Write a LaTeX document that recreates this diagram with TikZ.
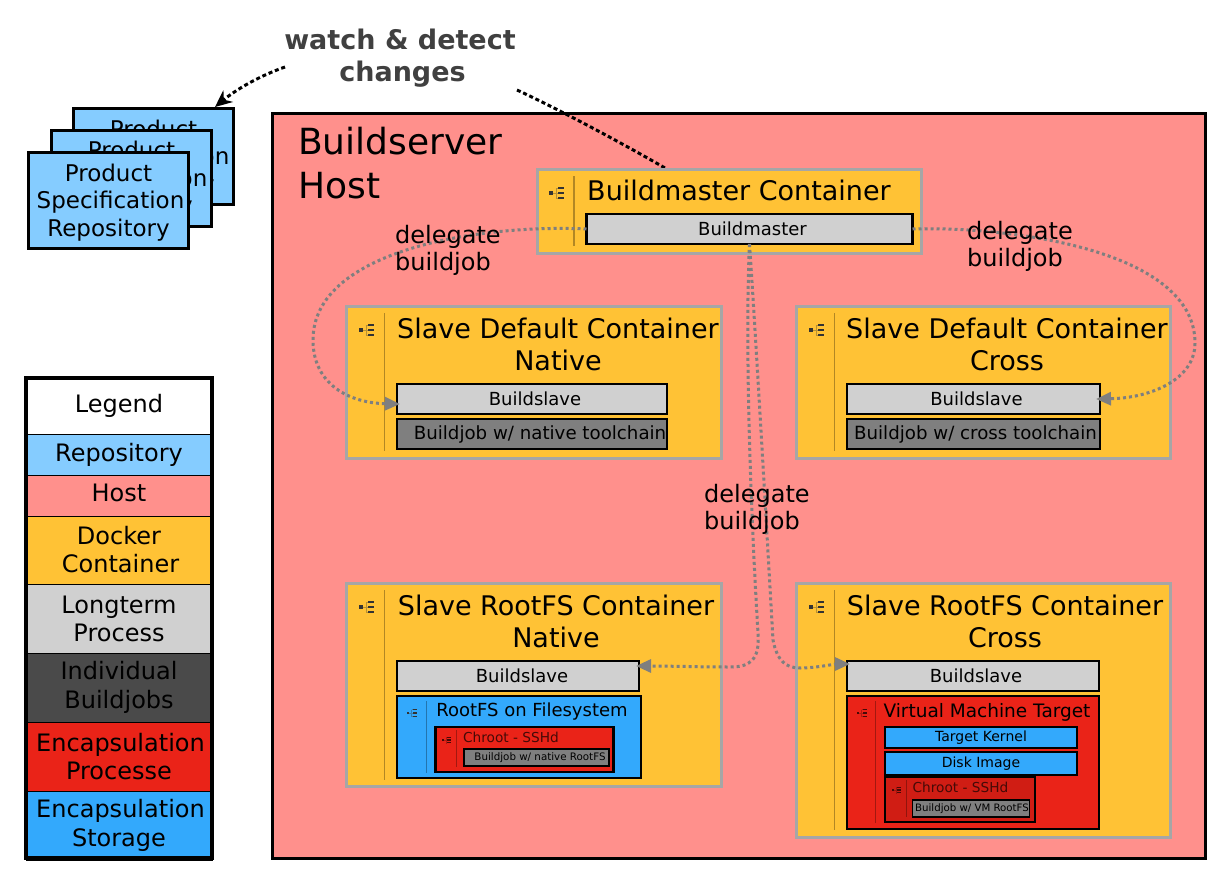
\documentclass[tikz,border=0pt]{standalone}
\usepackage{fontspec}
\setmainfont{DejaVu Sans}
\usetikzlibrary{arrows.meta}
\definecolor{repoblue}{HTML}{85CCFF}
\definecolor{hostred}{HTML}{FF908C}
\definecolor{dockyellow}{HTML}{FFC235}
\definecolor{procgray}{HTML}{D0D0D0}
\definecolor{jobgray}{HTML}{7F7F7F}
\definecolor{legjob}{HTML}{4A4A4A}
\definecolor{encred}{HTML}{EA2318}
\definecolor{encdark}{HTML}{D01D14}
\definecolor{encblue}{HTML}{33A9FC}
\definecolor{framegray}{HTML}{A6A6A6}
\definecolor{watchgray}{HTML}{404040}
\newcommand{\fs}[1]{\fontsize{#1}{#1}\selectfont}
\newcommand{\repotext}{\rule{0pt}{21.5pt}Product\\[4.5pt]\hspace*{4pt}Specification\\[4.5pt]Repository}
\tikzset{
    corner/.style={anchor=north west, inner sep=0pt, outer sep=0pt, align=center},
    repobox/.style={corner, draw=black, line width=3pt, fill=repoblue, font=\fs{23}, minimum width=160pt, minimum height=96pt},
    dockbox/.style={corner, draw=framegray, line width=3pt, fill=dockyellow},
    procbox/.style={corner, draw=black, line width=2.6pt, fill=procgray, font=\fs{18}, minimum height=30pt},
    jobbox/.style={corner, draw=black, line width=2.6pt, fill=jobgray, minimum height=30pt, font=\fs{18.2}},
    encbox/.style={corner, draw=black, line width=2.4pt},
    title/.style={inner sep=0pt, align=center, font=\fs{27}},
    legrow/.style={corner, draw=black, line width=1pt, minimum width=186pt, font=\fs{24}},
    sepline/.style={draw=black, opacity=0.3, line width=1.3pt},
    delegatearrow/.style={draw=jobgray, line width=3pt, dash pattern=on 3pt off 3pt, -{Triangle[length=15pt,width=13pt]}},
    watchline/.style={draw=black, line width=3pt, dash pattern=on 4pt off 2.8pt},
    delegatetext/.style={inner sep=0pt, align=left, font=\fs{24}}
}
% little tree glyph
\newcommand{\dockicon}[4]{%
    \begin{scope}[shift={(#1,#2)}, scale=#3]
        \fill[#4] (-2,-2) rectangle (2,2);
        \draw[#4, opacity=0.35, line width=0.6pt] (2,0) -- (7,0) (5,-5) -- (5,5) -- (7,5) (5,-5) -- (7,-5);
        \fill[#4] (7,-5.8) rectangle (13,-4);
        \fill[#4] (7,-0.9) rectangle (13,0.9);
        \fill[#4] (7,4) rectangle (13,5.8);
    \end{scope}
}
\begin{document}
\begin{tikzpicture}[x=1pt,y=-1pt]
    \useasboundingbox (0,0) rectangle (1232,886);

    % repositories
    \node[repobox] (repoback) at (73.5,108.5) {\repotext};
    \node[repobox] (repomid) at (51.5,130) {\repotext};
    \node[repobox] (repofront) at (28.5,152.5) {\repotext};

    % host
    \node[corner, draw=black, line width=3pt, fill=hostred, minimum width=933pt, minimum height=745pt] (host) at (272,113) {};
    \node[inner sep=0pt, align=left, anchor=north west, font=\fs{36}] (hosttitle) at (298,127) {Buildserver\\[8pt]Host};

    % watch text
    \node[inner sep=0pt, align=center, font=\fs{27}\bfseries, text=watchgray] (watch) at (400,58) {watch \& detect\\[5.5pt]\hspace*{5pt}changes};
    \coordinate (watchleft) at (285,67);
    \coordinate (watchright) at (517,90);
    \coordinate (repotop) at (215,107);
    \coordinate (mastertop) at (665,168);
    \draw[watchline, -{Stealth[length=17pt,width=15pt]}] (watchleft) .. controls (262,75) and (238,88) .. (repotop);
    \draw[watchline] (watchright) .. controls (560,110) and (620,142) .. (mastertop);

    % buildmaster
    \node[dockbox, minimum width=384pt, minimum height=84pt] (master) at (537,169) {};
    \dockicon{551}{193}{1}{black!80}
    \draw[sepline] (574,176) -- (574,246);
    \node[title] (mastertitle) at (739,190) {Buildmaster Container};
    \node[procbox, minimum width=326pt] (masterproc) at (586.5,214) {\hspace*{6pt}Buildmaster};

    % slave default native
    \node[dockbox, minimum width=375pt, minimum height=152pt] (sdn) at (346,306) {};
    \dockicon{361}{330}{1}{black!80}
    \draw[sepline] (384.5,313) -- (384.5,451);
    \node[title] (sdntitle) at (558,344) {Slave Default Container\\[5pt]Native};
    \node[procbox, minimum width=270pt] (sdnproc) at (397,384) {\hspace*{6pt}Buildslave};
    \node[jobbox, minimum width=270pt] (sdnjob) at (397,419) {\hspace*{16pt}Buildjob w/ native toolchain};

    % slave default cross
    \node[dockbox, minimum width=374pt, minimum height=152pt] (sdc) at (796,306) {};
    \dockicon{811}{330}{1}{black!80}
    \draw[sepline] (834.5,313) -- (834.5,451);
    \node[title] (sdctitle) at (1007,344) {Slave Default Container\\[5pt]Cross};
    \node[procbox, minimum width=253pt] (sdcproc) at (847,384) {\hspace*{6pt}Buildslave};
    \node[jobbox, minimum width=253pt] (sdcjob) at (847,419) {\hspace*{4pt}Buildjob w/ cross toolchain};

    % slave rootfs native
    \node[dockbox, minimum width=375pt, minimum height=203pt] (srn) at (346,583) {};
    \dockicon{361}{607}{1}{black!80}
    \draw[sepline] (384.5,590) -- (384.5,780);
    \node[title] (srntitle) at (556,621) {Slave RootFS Container\\[5pt]Native};
    \node[procbox, minimum width=242pt] (srnproc) at (397,661) {\hspace*{8pt}Buildslave};
    \node[encbox, fill=encblue, minimum width=244pt, minimum height=82pt] (rootfs) at (397,696) {};
    \dockicon{408}{713}{0.7}{black!80}
    \draw[sepline] (426.7,701) -- (426.7,773);
    \node[inner sep=0pt, font=\fs{18}] (rootfstitle) at (532,712) {RootFS on Filesystem};
    \node[encbox, fill=encred, minimum width=178pt, minimum height=45pt] (chrootn) at (435.5,727) {};
    \dockicon{443}{740}{0.6}{black!70!encred}
    \draw[sepline] (456.5,730) -- (456.5,767);
    \node[inner sep=0pt, font=\fs{13.7}, text=black!70!encred] (chrootntitle) at (511,737) {Chroot - SSHd};
    \node[encbox, fill=jobgray, line width=1.6pt, minimum width=145pt, minimum height=17pt, font=\fs{10.3}] (chrootnjob) at (464,749) {\hspace*{7pt}Buildjob w/ native RootFS};

    % slave rootfs cross
    \node[dockbox, minimum width=374pt, minimum height=254pt] (src) at (796,583) {};
    \dockicon{811}{607}{1}{black!80}
    \draw[sepline] (834.5,590) -- (834.5,830);
    \node[title] (srctitle) at (1005,621) {Slave RootFS Container\\[5pt]Cross};
    \node[procbox, minimum width=252pt] (srcproc) at (847,661) {\hspace*{6pt}Buildslave};
    \node[encbox, fill=encred, minimum width=252pt, minimum height=133pt] (vm) at (847,696) {};
    \dockicon{858}{713}{0.7}{black!70!encred}
    \draw[sepline] (875.7,701) -- (875.7,823);
    \node[inner sep=0pt, font=\fs{18.5}] (vmtitle) at (987,712) {Virtual Machine Target};
    \node[encbox, fill=encblue, minimum width=192pt, minimum height=21pt, font=\fs{14}] (kernel) at (885,727) {Target Kernel};
    \node[encbox, fill=encblue, minimum width=192pt, minimum height=23pt, font=\fs{14}] (disk) at (885,752) {Disk Image};
    \node[encbox, fill=encdark, minimum width=150pt, minimum height=45pt] (chrootc) at (885,777) {};
    \dockicon{893}{790}{0.6}{black!70!encred}
    \draw[sepline] (906.5,780) -- (906.5,817);
    \node[inner sep=0pt, font=\fs{13.7}, text=black!70!encred] (chrootctitle) at (960.5,787) {Chroot - SSHd};
    \node[encbox, fill=jobgray, line width=1.6pt, minimum width=117pt, minimum height=17pt, font=\fs{10.2}] (chrootcjob) at (912.5,800) {\hspace*{2pt}Buildjob w/ VM RootFS};

    % delegation
    \draw[delegatearrow] (masterproc.west) .. controls (480,224) and (313,250) .. (313,340) .. controls (313,385) and (350,403) .. ([xshift=3pt,yshift=-5pt]sdnproc.west);
    \draw[delegatearrow] (masterproc.east) .. controls (1010,226) and (1195,250) .. (1195,343) .. controls (1195,380) and (1150,398) .. ([xshift=-4pt]sdcproc.east);
    \draw[delegatearrow] (masterproc.south) .. controls (745,340) and (750,500) .. (758,633) .. controls (760,660) and (750,667) .. (730,667) .. controls (700,667) and (670,666) .. ([xshift=-3pt,yshift=10pt]srnproc.east);
    \draw[delegatearrow] (masterproc.south) .. controls (756,340) and (765,500) .. (773,640) .. controls (777,660) and (785,668) .. (800,668) .. controls (815,668) and (835,664) .. ([xshift=3pt,yshift=12pt]srcproc.west);
    \node[delegatetext, anchor=north west] (delegateleft) at (395,225) {delegate\\[3.5pt]buildjob};
    \node[delegatetext, anchor=north west] (delegateright) at (967,221) {delegate\\[3.5pt]buildjob};
    \node[delegatetext, anchor=north west] (delegatemid) at (704,484) {delegate\\[3.5pt]buildjob};

    % legend
    \node[legrow, fill=white, minimum height=56pt] (leghead) at (26,378) {Legend};
    \node[legrow, fill=repoblue, minimum height=41pt] (legrepo) at (26,434) {Repository};
    \node[legrow, fill=hostred, minimum height=41pt] (leghost) at (26,475) {Host\vphantom{y}};
    \node[legrow, fill=dockyellow, minimum height=68pt] (legdock) at (26,516) {Docker\\[4pt]\hspace*{3pt}Container};
    \node[legrow, fill=procgray, minimum height=69pt] (legproc) at (26,584) {Longterm\\[4pt]Process};
    \node[legrow, fill=legjob, minimum height=69pt] (legjob) at (26,653) {Individual\\[4.5pt]Buildjobs};
    \node[legrow, fill=encred, minimum height=69pt] (legencp) at (26,722) {\hspace*{3pt}Encapsulation\\[4.5pt]Processe};
    \node[legrow, fill=encblue, minimum height=69pt] (legencs) at (26,791) {\hspace*{3pt}Encapsulation\\[4.5pt]Storage};
    \draw[black, line width=4pt] (leghead.north west) rectangle ([yshift=2pt]legencs.south east);
\end{tikzpicture}
\end{document}
